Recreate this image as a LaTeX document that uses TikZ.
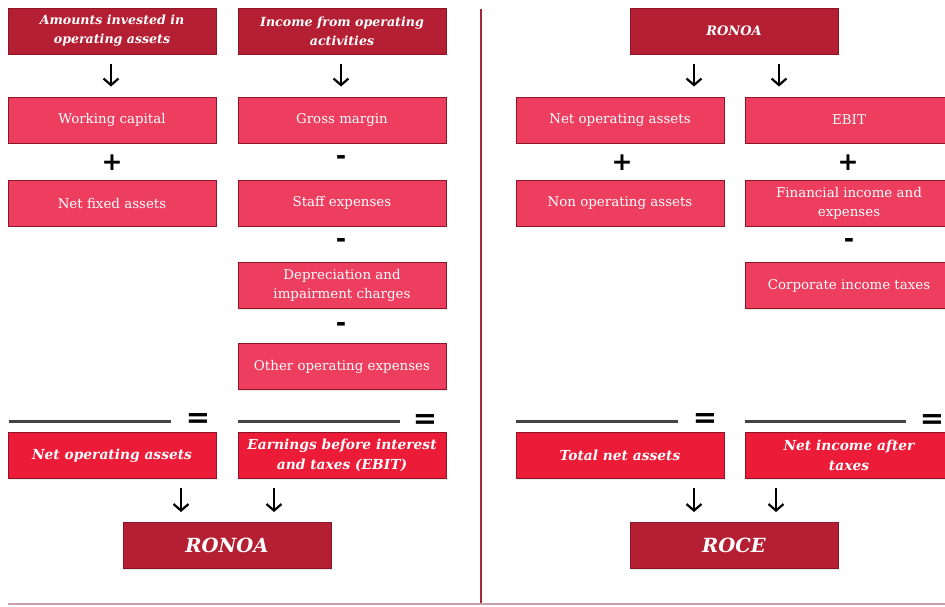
\documentclass[tikz,border=0pt]{standalone}
\usepackage{fontspec}
\setmainfont{DejaVu Serif}
\newfontfamily\opfont{DejaVu Sans}
\usetikzlibrary{arrows.meta,shadows}

\definecolor{hdred}{HTML}{B41F33}
\definecolor{itemred}{HTML}{EE3E5F}
\definecolor{resred}{HTML}{EC1B38}
\definecolor{edgered}{HTML}{8C1528}
\definecolor{rulegrey}{HTML}{444444}
\definecolor{divred}{HTML}{A3283C}
\definecolor{footline}{HTML}{C9A0A8}

\begin{document}
\begin{tikzpicture}[x=1pt,y=-1pt,
  box/.style={draw=edgered, line width=1pt, minimum width=208pt, minimum height=46pt,
    text=white, align=center, inner sep=2pt,
    drop shadow={opacity=0.18,shadow xshift=1pt,shadow yshift=-1pt}},
  hdbox/.style={box, fill=hdred, font=\fontsize{12.6}{19}\selectfont\bfseries\itshape},
  itembox/.style={box, fill=itemred, font=\fontsize{13.4}{19}\selectfont},
  resbox/.style={box, fill=resred, font=\fontsize{13.8}{20}\selectfont\bfseries\itshape},
  finalbox/.style={box, fill=hdred, font=\fontsize{19.5}{22}\selectfont\bfseries\itshape},
  opsign/.style={inner sep=0pt, text=black, font=\opfont\bfseries\fontsize{25}{25}\selectfont},
  eqsign/.style={inner sep=0pt, text=black, font=\opfont\bfseries\fontsize{29}{29}\selectfont},
  sumrule/.style={draw=rulegrey, line width=3pt},
  arr/.style={-{Straight Barb[length=6.5pt,width=15pt,line width=2.2pt]}, line width=2.3pt, black,
    shorten <=9pt, shorten >=10pt}]

\useasboundingbox (0,0) rectangle (945,606);
\clip (0,0) rectangle (945,606);

% ---------- left half: RONOA ----------
\node[hdbox] (hA) at (112,31) {Amounts invested in\\operating assets};
\node[hdbox] (hB) at (342,31) {Income from operating\\activities};

\node[itembox] (wc)  at (112,120)   {Working capital};
\node[itembox] (nfa) at (112,203)   {Net fixed assets};
\node[itembox] (gm)  at (342,120)   {Gross margin};
\node[itembox] (se)  at (342,203)   {Staff expenses};
\node[itembox] (dep) at (342,285.5) {Depreciation and\\impairment charges};
\node[itembox] (ooe) at (342,366.5) {Other operating expenses};

\node[opsign] (pA)  at (112,163) {+};
\node[opsign] (mB1) at (341,160) {-};
\node[opsign] (mB2) at (341,243) {-};
\node[opsign] (mB3) at (341,327) {-};

\draw[sumrule] (9,421) -- (171,421);
\node[eqsign] (eA) at (198,421) {=};
\draw[sumrule] (238,421) -- (400,421);
\node[eqsign] (eB) at (425,422) {=};

\node[resbox] (nopA)  at (112,455.5) {Net operating assets};
\node[resbox] (ebitA) at (342,455.5) {Earnings before interest\\and taxes (EBIT)};

\node[finalbox] (ronoa) at (227,545.5) {RONOA};

\draw[arr] ([xshift=-1pt]hA.south) -- ([xshift=-1pt]wc.north);
\draw[arr] ([xshift=-1pt]hB.south) -- ([xshift=-1pt]gm.north);
\draw[arr] ([xshift=69pt]nopA.south) -- ([xshift=69pt]nopA.south |- ronoa.north);
\draw[arr] ([xshift=-68pt]ebitA.south) -- ([xshift=-68pt]ebitA.south |- ronoa.north);

% ---------- right half: ROCE ----------
\node[hdbox, font=\fontsize{13}{16}\selectfont\bfseries\itshape] (hR) at (734,31) {RONOA};

\node[itembox] (noaR)  at (620,120)   {Net operating assets};
\node[itembox] (ebitR) at (849,120)   {EBIT};
\node[itembox] (nonop) at (620,203)   {Non operating assets};
\node[itembox] (fin)   at (849,203)   {Financial income and\\expenses};
\node[itembox] (cit)   at (849,285.5) {Corporate income taxes};

\node[opsign] (pC)  at (622,163) {+};
\node[opsign] (pD)  at (848,163) {+};
\node[opsign] (mD)  at (849,243) {-};

\draw[sumrule] (516,421) -- (678,421);
\node[eqsign] (eC) at (705,421) {=};
\draw[sumrule] (745,421) -- (906,421);
\node[eqsign] (eD) at (932,422) {=};

\node[resbox] (tna) at (620,455.5) {Total net assets};
\node[resbox] (nia) at (849,455.5) {Net income after\\taxes};

\node[finalbox] (roce) at (734,545.5) {ROCE};

\draw[arr] ([xshift=-40pt]hR.south) -- ([xshift=-40pt]hR.south |- noaR.north);
\draw[arr] ([xshift=45pt]hR.south) -- ([xshift=45pt]hR.south |- ebitR.north);
\draw[arr] ([xshift=74pt]tna.south) -- ([xshift=74pt]tna.south |- roce.north);
\draw[arr] ([xshift=-73pt]nia.south) -- ([xshift=-73pt]nia.south |- roce.north);

% ---------- frame lines ----------
\draw[divred, line width=1.5pt] (481,9) -- (481,604);
\draw[footline, line width=1.3pt] (8,604) -- (945,604);
\end{tikzpicture}
\end{document}
